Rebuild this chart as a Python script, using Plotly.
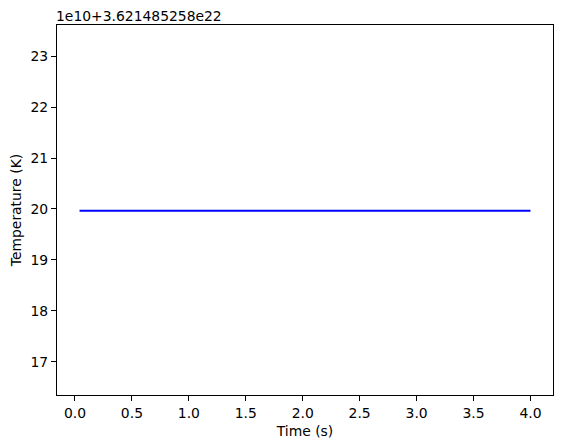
import plotly.graph_objects as go

# time axis (s) and temperature readings, shown relative to the axis offset
time_s = [0.04, 0.5, 1.0, 1.5, 2.0, 2.5, 3.0, 3.5, 4.0]
temp_rel = [19.965, 19.964, 19.965, 19.966, 19.966, 19.966, 19.965, 19.965, 19.965]
offset_text = "1e10+3.621485258e22"

x_ticks = [0.0, 0.5, 1.0, 1.5, 2.0, 2.5, 3.0, 3.5, 4.0]
y_ticks = [17, 18, 19, 20, 21, 22, 23]

font = dict(family="DejaVu Sans", size=13.9, color="black")

fig = go.Figure()
fig.add_trace(go.Scatter(x=time_s, y=temp_rel, mode="lines",
                         line=dict(color="blue", width=2), showlegend=False))

axis_style = dict(showline=True, linecolor="black", linewidth=1, mirror=True,
                  showgrid=False, zeroline=False, ticks="outside", ticklen=5,
                  tickwidth=1, tickcolor="black", tickfont=font, automargin=False)

fig.update_xaxes(range=[-0.158, 4.198], tickvals=x_ticks,
                 ticktext=["%.1f" % v for v in x_ticks],
                 title=dict(text="Time (s)", font=font, standoff=6), **axis_style)
fig.update_yaxes(range=[16.35, 23.61], tickvals=y_ticks,
                 title=dict(text="Temperature (K)", font=font, standoff=8), **axis_style)

fig.add_annotation(text=offset_text, xref="paper", yref="paper", x=0, y=1,
                   xanchor="left", yanchor="bottom", showarrow=False,
                   font=font, xshift=-3, yshift=-1)

# the page body keeps an 8px margin, so the figure is 8px smaller and shifted
fig.update_layout(width=555, height=440, plot_bgcolor="white", paper_bgcolor="white",
                  margin=dict(l=49, r=10, t=17, b=53), font=font)

fig.write_html("out.html")
